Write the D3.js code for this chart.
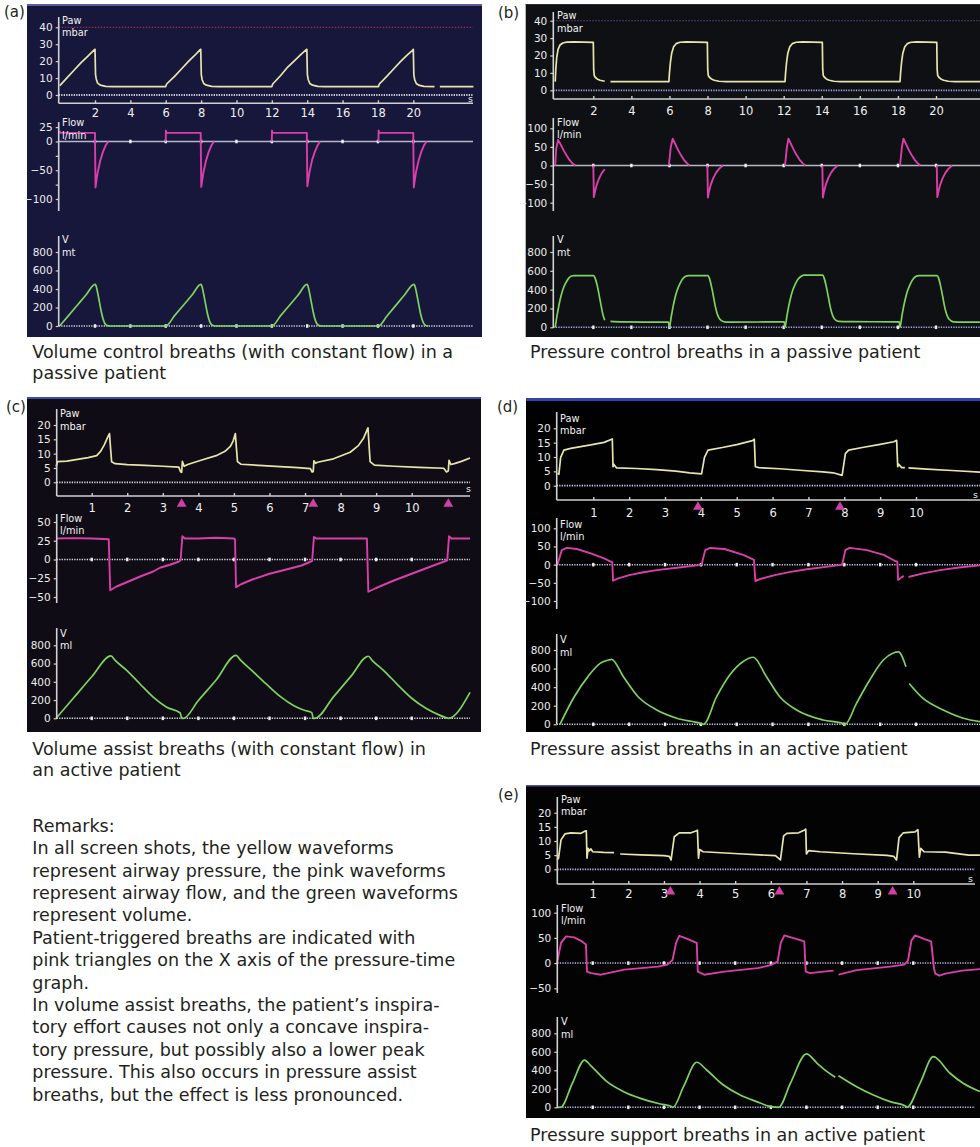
<!DOCTYPE html>
<html><head><meta charset="utf-8">
<script src="https://cdn.jsdelivr.net/npm/d3@7/dist/d3.min.js"></script>
<style>body{margin:0;background:#fff;} svg{display:block;}</style>
</head><body><svg id="c" width="980" height="1147"></svg>
<script>
// ================= DATA =================
const timeTicksAB = [2,4,6,8,10,12,14,16,18,20];
const timeTicksCDE = [1,2,3,4,5,6,7,8,9,10];
const pawTicksAB = [0,10,20,30,40];
const pawTicksCDE = [0,5,10,15,20];
const flowTicksA = [25,0,-50,-100];
const flowMinorA = [-25,-75];
const flowTicksBD = [100,50,0,-50,-100];
const flowTicksC = [50,25,0,-25,-50];
const flowTicksE = [100,50,0,-50];
const volTicks = [0,200,400,600,800];
const pawLimitAB = 40;

const panelLetters = ["(a)","(b)","(c)","(d)","(e)"];
const captionA = ["Volume control breaths (with constant flow) in a","passive patient"];
const captionB = ["Pressure control breaths in a passive patient"];
const captionC = ["Volume assist breaths (with constant flow) in","an active patient"];
const captionD = ["Pressure assist breaths in an active patient"];
const captionE = ["Pressure support breaths in an active patient"];
const remarks = [
 "Remarks:",
 "In all screen shots, the yellow waveforms",
 "represent airway pressure, the pink waveforms",
 "represent airway flow, and the green waveforms",
 "represent volume.",
 "Patient-triggered breaths are indicated with",
 "pink triangles on the X axis of the pressure-time",
 "graph.",
 "In volume assist breaths, the patient\u2019s inspira-",
 "tory effort causes not only a concave inspira-",
 "tory pressure, but possibly also a lower peak",
 "pressure. This also occurs in pressure assist",
 "breaths, but the effect is less pronounced."
];

// trigger markers (s)
const triggersC = [3.53,7.23,11.03];
const triggersD = [3.92,7.88];
const triggersE = [3.18,6.24,9.42];

// (a) volume control, passive
const aPaw = [[0,5.5],[0.05,6],[0.4,10],[0.8,14.5],[1.2,19],[1.6,23],[1.97,26.8],[2.0,27],[2.03,12],[2.07,9.5],[2.15,7],[2.3,5.8],[2.6,5.1],[3,5],[6,5],
 [6.05,6.5],[6.5,11],[6.9,15.5],[7.3,20],[7.65,23.5],[7.95,26.8],[7.98,27],[8.01,12],[8.06,9],[8.15,6.8],[8.3,5.8],[8.6,5.1],[9,5],[12,5],
 [12.05,6.5],[12.5,11.5],[12.9,16.5],[13.3,20.5],[13.65,24],[13.95,26.8],[13.98,27],[14.01,12],[14.06,9],[14.15,6.8],[14.3,5.8],[14.6,5.1],[15,5],[18.03,5],
 [18.08,6.5],[18.5,11],[18.9,15.5],[19.3,20],[19.65,23.5],[19.97,26.5],[20.0,27],[20.03,12],[20.08,9],[20.17,6.8],[20.3,5.8],[20.6,5.1],[21.2,5],null,[21.5,5],[23.4,5]];
const aFlow = [[0,18],[0.03,15],[2.0,15],[2.0,0],[2.03,-80],[2.08,-68],[2.15,-54],[2.3,-33],[2.45,-18],[2.6,-7],[2.75,0],null,
 [6.0,0],[6.01,19],[6.04,15],[7.98,15],[7.98,0],[8.01,-79],[8.06,-68],[8.13,-54],[8.28,-33],[8.43,-18],[8.58,-7],[8.73,0],null,
 [12.0,0],[12.01,19],[12.04,15],[13.98,15],[13.98,0],[14.01,-78],[14.06,-67],[14.13,-53],[14.28,-32],[14.43,-18],[14.58,-7],[14.73,0],null,
 [18.03,0],[18.04,19],[18.07,15],[20.0,15],[20.0,0],[20.03,-80],[20.08,-68],[20.15,-54],[20.3,-33],[20.45,-18],[20.6,-7],[20.75,0]];
const aVol = [[0,0],[0.5,112],[1.0,225],[1.5,338],[2.0,450],[2.05,440],[2.15,360],[2.25,260],[2.35,160],[2.45,80],[2.55,30],[2.7,5],[2.85,0],[6.0,0],
 [6.5,112],[7.0,225],[7.5,338],[7.98,450],[8.03,440],[8.13,360],[8.23,260],[8.33,160],[8.43,80],[8.53,30],[8.68,5],[8.83,0],[12.0,0],
 [12.5,112],[13.0,225],[13.5,338],[13.98,450],[14.03,440],[14.13,360],[14.23,260],[14.33,160],[14.43,80],[14.53,30],[14.68,5],[14.83,0],[18.03,0],
 [18.5,105],[19.0,220],[19.5,335],[20.03,450],[20.08,440],[20.18,360],[20.28,260],[20.38,160],[20.48,80],[20.58,30],[20.7,5],[20.85,0]];

// (b) pressure control, passive
const bPaw = [[0,5],[0.03,12],[0.08,19],[0.15,23.5],[0.25,26],[0.4,27.2],[0.6,27.7],[1.0,27.8],[2.0,27.6],[2.02,12],[2.05,8.5],[2.1,7.5],[2.2,6.5],[2.35,5.8],[2.6,5.2],null,
 [2.9,5],[5.97,5],[6.0,10],[6.05,16],[6.12,21.5],[6.22,25],[6.35,26.8],[6.55,27.6],[6.9,27.8],[7.99,27.6],[8.01,12],[8.04,8.5],[8.1,7.5],[8.2,6.5],[8.35,5.8],[8.6,5.2],[9.0,5],
 [12.07,5],[12.1,10],[12.15,16],[12.22,21.5],[12.32,25],[12.45,26.8],[12.65,27.6],[13.0,27.8],[14.03,27.6],[14.05,12],[14.08,8.5],[14.14,7.5],[14.24,6.5],[14.39,5.8],[14.64,5.2],[15.0,5],
 [18.11,5],[18.14,10],[18.19,16],[18.26,21.5],[18.36,25],[18.49,26.8],[18.69,27.6],[19.0,27.8],[20.04,27.6],[20.06,12],[20.09,8.5],[20.15,7.5],[20.25,6.5],[20.4,5.8],[20.65,5.2],[21.0,5],[22.4,5]];
const bFlow = [[0,0],[0.05,45],[0.15,69],[0.3,55],[0.45,40],[0.6,27],[0.75,15],[0.9,6],[1.05,0],null,
 [2.0,0],[2.03,-85],[2.08,-72],[2.18,-52],[2.3,-35],[2.45,-20],[2.6,-10],null,
 [5.97,0],[6.07,50],[6.17,72],[6.3,58],[6.45,42],[6.6,28],[6.75,16],[6.9,7],[7.05,0],null,
 [7.99,0],[8.02,-86],[8.07,-72],[8.17,-52],[8.3,-34],[8.45,-19],[8.6,-9],[8.8,0],null,
 [12.07,0],[12.17,50],[12.25,72],[12.38,58],[12.53,42],[12.68,28],[12.83,16],[12.98,7],[13.13,0],null,
 [14.03,0],[14.06,-86],[14.11,-72],[14.21,-52],[14.34,-34],[14.49,-19],[14.64,-9],[14.84,0],null,
 [18.11,0],[18.21,50],[18.29,72],[18.42,58],[18.57,42],[18.72,28],[18.87,16],[19.02,7],[19.17,0],null,
 [20.04,0],[20.07,-85],[20.12,-72],[20.22,-52],[20.35,-34],[20.5,-19],[20.65,-9],[20.85,0]];
const bVol = [[0,0],[0.1,130],[0.2,240],[0.3,330],[0.4,400],[0.55,470],[0.7,520],[0.85,545],[1.0,550],[2.02,550],[2.1,520],[2.2,450],[2.3,350],[2.4,240],[2.5,140],[2.6,75],null,
 [2.9,62],[3.5,57],[5.95,55],[5.99,0],[6.1,120],[6.2,230],[6.3,320],[6.4,390],[6.55,465],[6.7,515],[6.85,542],[7.0,550],[8.02,550],[8.1,520],[8.2,440],[8.3,340],[8.4,230],[8.5,150],[8.6,100],[8.75,68],[8.9,58],[9.2,55],
 [12.03,58],[12.07,0],[12.17,120],[12.27,230],[12.37,320],[12.47,390],[12.62,465],[12.77,515],[12.92,542],[13.07,555],[14.05,555],[14.13,520],[14.23,440],[14.33,340],[14.43,230],[14.53,150],[14.63,100],[14.78,70],[14.93,62],[15.3,60],
 [18.07,58],[18.11,0],[18.21,120],[18.31,230],[18.41,320],[18.51,390],[18.66,465],[18.81,515],[18.96,542],[19.11,550],[20.06,550],[20.14,520],[20.24,440],[20.34,340],[20.44,230],[20.54,150],[20.64,100],[20.79,70],[20.94,58],[21.3,55],[22.4,55]];

// (c) volume assist, active
const cPaw = [[0,5.5],[0.04,7.2],[0.3,7.4],[0.6,8.0],[0.9,8.6],[1.14,9.3],[1.25,10.8],[1.35,13],[1.45,15.8],[1.5,17],[1.53,12],[1.56,7.2],[1.66,6.5],[2.0,6.2],[2.5,5.9],[3.0,5.6],[3.45,5.3],[3.5,3.7],[3.53,3.5],[3.55,7.3],[3.6,5.6],[3.7,6.2],[4.05,7.6],[4.5,9.3],[4.75,10.8],[4.9,12.5],[4.98,14.5],[5.04,17],[5.07,12],[5.1,7.2],[5.2,6.3],[5.7,5.9],[6.3,5.5],[6.8,5.1],[7.15,4.8],[7.2,3.6],[7.23,3.7],[7.25,7.5],[7.3,6.6],[7.35,7.0],[7.8,8.2],[8.27,10.5],[8.5,12.8],[8.65,15.5],[8.77,19],[8.8,13],[8.83,7.2],[8.95,6.0],[9.5,5.6],[10.2,5.2],[10.9,4.9],[10.98,3.6],[11.03,4],[11.05,7.7],[11.1,6.2],[11.2,6.5],[11.4,7.3],[11.64,8.5]];
const cFlow = [[0,28],[0.5,28.5],[1.0,28],[1.48,27],[1.52,-41],[1.7,-36],[2.0,-30],[2.4,-22],[2.73,-16],[2.92,-11],[3.2,-7],[3.44,-3],[3.5,-1],[3.55,31],[3.62,28],[4.0,28],[4.5,29],[5.0,28],[5.03,27],[5.06,-37],[5.2,-33],[5.5,-27],[6.0,-19],[6.5,-13],[6.9,-8],[7.2,-2],[7.25,30],[7.32,28],[8.0,28],[8.74,28],[8.78,-43],[9.0,-38],[9.5,-28],[10.0,-19],[10.5,-10],[10.9,-3],[11.0,-1],[11.05,31],[11.12,28],[11.64,28]];
const cVol = [[0,0],[0.5,228],[1.0,455],[1.54,685],[1.66,635],[2.0,520],[2.36,376],[2.73,232],[3.11,122],[3.49,58],[3.53,0],[3.58,0],[4.0,195],[4.5,420],[5.06,690],[5.18,640],[5.5,525],[5.9,380],[6.3,240],[6.7,135],[7.0,85],[7.19,62],[7.23,0],[7.28,0],[7.8,235],[8.3,465],[8.78,680],[8.9,630],[9.25,510],[9.6,370],[10.0,220],[10.4,110],[10.75,40],[10.98,5],[11.03,0],[11.64,285]];

// (d) pressure assist, active
const dPaw = [[0,4.3],[0.04,4.0],[0.09,9.9],[0.18,12.4],[0.37,13.0],[0.93,14.2],[1.3,15.1],[1.53,16.3],[1.55,6.6],[1.57,7.5],[1.65,6.2],[2.2,6.0],[2.77,5.6],[3.3,5.1],[3.69,4.5],[4.02,4.1],[4.1,9.9],[4.2,12.4],[4.6,13.3],[5.0,14.3],[5.44,15.7],[5.49,16.2],[5.52,6.6],[5.62,6.3],[6.2,5.9],[6.85,5.3],[7.4,4.8],[7.69,4.5],[7.94,3.6],[8.03,11.2],[8.12,12.4],[8.54,13.4],[9.0,14.4],[9.38,15.3],[9.46,15.8],[9.49,6.6],[9.52,7.5],[9.6,6.3],[9.69,6.3],null,[9.79,6.2],[10.3,5.8],[11.0,5.3],[11.79,4.7]];
const dFlow = [[0,0],[0.12,40],[0.26,46],[0.54,43],[0.93,31],[1.3,17],[1.53,6],[1.55,-44],[1.7,-38],[2.0,-29],[2.4,-21],[2.77,-15],[3.33,-8.5],[3.9,-2],[4.02,0],[4.12,40],[4.26,46],[4.66,43],[5.2,26],[5.48,13],[5.52,-45],[5.7,-38],[6.06,-29],[6.5,-20],[7.0,-12],[7.5,-6],[7.94,0],[8.03,40],[8.15,46],[8.63,40],[9.1,27],[9.38,12],[9.48,8],[9.5,-42],[9.58,-36],[9.66,-31],null,[9.79,-34],[10.2,-24],[10.67,-15],[11.2,-8],[11.79,-2]];
const dVol = [[0.07,0],[0.47,297],[0.86,519],[1.19,656],[1.4,690],[1.51,700],[1.84,512],[2.25,297],[2.77,154],[3.33,65],[3.98,11],[4.07,0],[4.44,297],[4.81,533],[5.18,676],[5.46,722],[5.83,512],[6.2,297],[6.67,154],[7.41,46],[7.97,8],[8.02,0],[8.34,226],[8.71,477],[9.09,692],[9.35,765],[9.51,780],[9.72,620],null,[9.81,440],[10.2,278],[10.76,154],[11.32,65],[11.79,28]];

// (e) pressure support, active
const ePaw = [[0,3.3],[0.04,3.9],[0.11,10.4],[0.22,12.5],[0.39,12.9],[0.67,12.7],[0.79,13.5],[0.82,13.6],[0.84,3.9],[0.87,7.4],[0.9,6.5],[0.95,7.2],[1.0,6.2],[1.3,6.0],[1.6,5.9],null,[1.77,5.4],[2.35,5.1],[3.0,4.8],[3.15,4.6],[3.2,3.3],[3.29,11.5],[3.43,12.9],[3.76,12.9],[3.92,13.6],[3.94,13.8],[3.97,3.9],[4.0,7.0],[4.1,6.2],[5.1,5.5],[6.13,4.8],[6.27,3.3],[6.36,11.8],[6.45,12.7],[6.78,12.9],[6.95,13.9],[6.98,14.2],[7.0,5.4],[7.06,6.6],[7.38,6.2],[8.32,5.5],[9.26,4.9],[9.45,4.6],[9.53,3.3],[9.6,11.2],[9.72,12.9],[10.05,13.2],[10.13,14],[10.17,4.3],[10.21,7.4],[10.3,6.2],[10.9,6.1],[11.56,5.0],[11.87,5.0]];
const eFlow = [[0,0],[0.11,40],[0.25,53],[0.48,51],[0.7,43],[0.81,37],[0.84,-17],[0.95,-20],[1.23,-23],[1.89,-13],[2.83,-7],[3.1,-3],[3.24,6],[3.34,40],[3.43,54],[3.66,48],[3.92,40],[3.95,-17],[4.13,-23],[4.69,-17],[5.63,-10],[6.0,-4],[6.19,3],[6.28,40],[6.38,55],[6.66,49],[6.94,43],[6.98,-17],[7.1,-20],[7.48,-17],[7.76,-15],null,[7.9,-23],[8.41,-14],[9.35,-7],[9.75,-3],[9.85,5],[9.95,45],[10.05,55],[10.3,48],[10.5,43],[10.58,-10],[10.62,-21],[10.73,-25],[10.9,-21],[11.37,-15],[11.87,-12]];
const eVol = [[0,0],[0.1,0],[0.43,260],[0.77,511],[0.93,457],[1.4,277],[1.87,169],[2.34,97],[2.9,36],[3.18,14],[3.25,0],[3.55,223],[3.92,487],[4.2,403],[4.67,241],[5.14,133],[5.6,61],[5.98,10],[6.22,0],[6.55,260],[7.0,577],[7.3,476],[7.58,385],[7.81,324],null,[7.9,342],[8.41,223],[8.88,133],[9.35,61],[9.78,15],[9.82,0],[10.2,270],[10.56,547],[11.03,368],[11.4,260],[11.87,170]];

// ================= LAYOUT / STYLE =================
const FONT = "'DejaVu Sans','Open Sans',sans-serif";
const C_PAW = "#e8e5ac", C_FLOW = "#d83fa8", C_VOL = "#7fd160";
const layouts = {
 a:{box:[27,4,455,333],bg:"#17173b",border:"#5b5b9e",bw:2,letter:[4,17],
    x:{d:[2,20],r:[95,413.3],ext:[58.7,473]},xLab:117.5,sLab:[468,102],zero:"#cfd0dc",limit:"#9a2a52",
    paw:{d:[0,40],r:[95,27.3],ax:[17,103.3],lab:[62,23.5,36]},
    flow:{d:[-100,0],r:[199,141.5],ax:[122,211],lab:[62,126,138.5],solid:true},
    vol:{d:[0,800],r:[326,252],ax:[236,326],lab:[62,242.7,256]}},
 b:{box:[525.7,4,455,333],bg:"#0e1013",border:"#2a2c33",bw:1,letter:[498,18],
    x:{d:[2,20],r:[593.3,936],ext:[553.3,980]},xLab:115.5,sLab:null,zero:"#a3a3e6",limit:"#553c70",
    paw:{d:[0,40],r:[90.3,20.7],ax:[12,99],lab:[557,19.3,31.7]},
    flow:{d:[-100,100],r:[202.7,128.3],ax:[118,211],lab:[557,126,138.3],solid:true},
    vol:{d:[0,800],r:[327.3,252],ax:[236,328],lab:[557,243.3,256]}},
 c:{box:[27,397,454,335],bg:"#0f0c15",border:"#3d4ea2",bw:2,letter:[6,412],
    x:{d:[1,10],r:[91.7,411.7],ext:[56.7,470]},xLab:512.5,sLab:[466,492],zero:"#d8d8e0",
    paw:{d:[0,20],r:[482.3,425],ax:[409,496],lab:[60,417.3,430]},
    flow:{d:[-50,50],r:[597,522],ax:[514,603],lab:[60,521.7,534]},
    vol:{d:[0,800],r:[718.3,645.3],ax:[628,719],lab:[60,636.7,649.3]},trigY:504},
 d:{box:[526,398,454,334],bg:"#010101",border:"#3444aa",bw:3,letter:[497,412],
    x:{d:[1,10],r:[593.3,916],ext:[556.7,980]},xLab:517,sLab:[973,498],zero:"#c8c8ee",
    paw:{d:[0,20],r:[485.7,428.3],ax:[412,500],lab:[560,421.7,434.3]},
    flow:{d:[-100,100],r:[601,528.3],ax:[518,609],lab:[560,527.7,540]},
    vol:{d:[0,800],r:[724.3,650],ax:[634,724],lab:[560,642.7,656]},trigY:507},
 e:{box:[526,785,454,333],bg:"#030303",border:"#50509c",bw:1.5,letter:[498,800],
    x:{d:[1,10],r:[592.7,913.3],ext:[557.3,975]},xLab:898.5,sLab:[968,882],zero:"#b9b9e8",
    paw:{d:[0,20],r:[869.3,812.7],ax:[797,884],lab:[561,802.7,815]},
    flow:{d:[-50,100],r:[988.3,912.7],ax:[905,993],lab:[561,911.7,924]},
    vol:{d:[0,800],r:[1107.3,1033.3],ax:[1017,1108],lab:[561,1025,1038.3]},trigY:891.7}
};
const captionPos = {a:[32.3,358.3],b:[530,358.3],c:[32.3,755],d:[530,755],e:[530,1141]};
const TEXT_SIZE = 17.5, LABEL_SIZE = 9.8, YTICK_SIZE = 10.5, XTICK_SIZE = 11.5, LETTER_SIZE = 15;

const panels = [
 {id:"a",letter:panelLetters[0],paw:aPaw,flow:aFlow,vol:aVol,tt:timeTicksAB,pt:pawTicksAB,ft:flowTicksA,fm:flowMinorA,vu:"mt",trig:[],cap:captionA,limit:pawLimitAB},
 {id:"b",letter:panelLetters[1],paw:bPaw,flow:bFlow,vol:bVol,tt:timeTicksAB,pt:pawTicksAB,ft:flowTicksBD,fm:[],vu:"mt",trig:[],cap:captionB,limit:pawLimitAB},
 {id:"c",letter:panelLetters[2],paw:cPaw,flow:cFlow,vol:cVol,tt:timeTicksCDE,pt:pawTicksCDE,ft:flowTicksC,fm:[],vu:"ml",trig:triggersC,cap:captionC},
 {id:"d",letter:panelLetters[3],paw:dPaw,flow:dFlow,vol:dVol,tt:timeTicksCDE,pt:pawTicksCDE,ft:flowTicksBD,fm:[],vu:"ml",trig:triggersD,cap:captionD},
 {id:"e",letter:panelLetters[4],paw:ePaw,flow:eFlow,vol:eVol,tt:timeTicksCDE,pt:pawTicksCDE,ft:flowTicksE,fm:[],vu:"ml",trig:triggersE,cap:captionE}
];

// ================= DRAW =================
const svg = d3.select("#c");
const defs = svg.append("defs");

function yAxis(g, y, spec, ticks, minor, axX) {
  const ax = g.append("g").attr("transform", `translate(${axX},0)`)
    .call(d3.axisLeft(y).tickValues(ticks).tickSize(3).tickPadding(3).tickFormat(d => d < 0 ? "\u2212" + Math.abs(d) : d));
  ax.select(".domain").remove();
  ax.selectAll("line").attr("stroke", "#cfcfcf").attr("stroke-width", 1.2);
  ax.selectAll("text").attr("fill", "#ececec").attr("font-family", FONT).attr("font-size", YTICK_SIZE);
  if (minor.length) {
    const mx = g.append("g").attr("transform", `translate(${axX},0)`)
      .call(d3.axisLeft(y).tickValues(minor).tickSize(3).tickFormat(""));
    mx.select(".domain").remove();
    mx.selectAll("line").attr("stroke", "#cfcfcf").attr("stroke-width", 1.2);
  }
  g.append("line").attr("x1", axX).attr("x2", axX).attr("y1", spec.ax[0]).attr("y2", spec.ax[1])
    .attr("stroke", "#d2d2d2").attr("stroke-width", 1.6);
}

function subLabels(g, spec, l1, l2) {
  [[l1, spec.lab[1]], [l2, spec.lab[2]]].forEach(([t, yy]) => {
    g.append("text").attr("x", spec.lab[0]).attr("y", yy).text(t)
      .attr("fill", "#f2f2f2").attr("font-family", FONT).attr("font-size", LABEL_SIZE);
  });
}

function zeroMarks(g, x, yy, ticks) {
  g.selectAll(null).data(ticks).enter().append("rect")
    .attr("x", d => x(d) - 1.2).attr("y", yy - 1.8).attr("width", 2.4).attr("height", 3.6)
    .attr("fill", "#ffffff").attr("opacity", 0.9);
}

panels.forEach(p => {
  const L = layouts[p.id];
  const g = svg.append("g");
  const clipId = "clip-" + p.id;
  defs.append("clipPath").attr("id", clipId).append("rect")
    .attr("x", L.box[0]).attr("y", L.box[1]).attr("width", L.box[2]).attr("height", L.box[3]);

  g.append("rect").attr("x", L.box[0]).attr("y", L.box[1]).attr("width", L.box[2]).attr("height", L.box[3]).attr("fill", L.bg);
  g.append("rect").attr("x", L.box[0]).attr("y", L.box[1]).attr("width", L.box[2]).attr("height", L.bw).attr("fill", L.border);

  svg.append("text").attr("x", L.letter[0]).attr("y", L.letter[1]).text(p.letter)
    .attr("font-family", FONT).attr("font-size", LETTER_SIZE).attr("fill", "#231f20");

  const x = d3.scaleLinear().domain(L.x.d).range(L.x.r);
  const [x0, x1] = L.x.ext;
  const axX = x0;
  const inner = g.append("g").attr("clip-path", `url(#${clipId})`);

  // ---------- pressure ----------
  const yP = d3.scaleLinear().domain(L.paw.d).range(L.paw.r);
  if (p.limit !== undefined) {
    inner.append("line").attr("x1", x0).attr("x2", x1).attr("y1", yP(p.limit)).attr("y2", yP(p.limit))
      .attr("stroke", L.limit).attr("stroke-width", 1.3).attr("stroke-dasharray", "1.5,1.5");
  }
  inner.append("line").attr("x1", x0).attr("x2", x1).attr("y1", yP(0)).attr("y2", yP(0))
    .attr("stroke", L.zero).attr("stroke-width", 1.8).attr("stroke-dasharray", "1.3,1.2");
  const xAxY = L.paw.ax[1];
  const xa = inner.append("g").attr("transform", `translate(0,${xAxY})`)
    .call(d3.axisBottom(x).tickValues(p.tt).tickSizeInner(-3).tickSizeOuter(0).tickPadding(L.xLab - xAxY - 0.73 * XTICK_SIZE));
  xa.select(".domain").remove();
  xa.selectAll("line").attr("stroke", "#d0d0d0").attr("stroke-width", 1.4);
  xa.selectAll("text").attr("fill", "#efefef").attr("font-family", FONT).attr("font-size", XTICK_SIZE);
  inner.append("line").attr("x1", x0).attr("x2", x1).attr("y1", xAxY).attr("y2", xAxY)
    .attr("stroke", "#d0d0d0").attr("stroke-width", 1.5);
  if (L.sLab) inner.append("text").attr("x", L.sLab[0]).attr("y", L.sLab[1]).text("s")
    .attr("fill", "#efefef").attr("font-family", FONT).attr("font-size", 9.5);
  yAxis(g, yP, L.paw, p.pt, [], axX);
  subLabels(g, L.paw, "Paw", "mbar");

  // ---------- flow ----------
  const yF = d3.scaleLinear().domain(L.flow.d).range(L.flow.r);
  inner.append("line").attr("x1", x0).attr("x2", x1).attr("y1", yF(0)).attr("y2", yF(0))
    .attr("stroke", L.flow.solid ? "#b7b7c8" : L.zero).attr("stroke-width", L.flow.solid ? 1.4 : 1.5)
    .attr("stroke-dasharray", L.flow.solid ? null : "1.3,1.2");
  zeroMarks(inner, x, yF(0), p.tt);
  yAxis(g, yF, L.flow, p.ft, p.fm, axX);
  subLabels(g, L.flow, "Flow", "l/min");

  // ---------- volume ----------
  const yV = d3.scaleLinear().domain(L.vol.d).range(L.vol.r);
  inner.append("line").attr("x1", x0).attr("x2", x1).attr("y1", yV(0)).attr("y2", yV(0))
    .attr("stroke", L.zero).attr("stroke-width", 1.5).attr("stroke-dasharray", "1.3,1.2");
  zeroMarks(inner, x, yV(0), p.tt);
  yAxis(g, yV, L.vol, volTicks, [], axX);
  subLabels(g, L.vol, "V", p.vu);

  // ---------- traces ----------
  const mk = (ys, curve) => d3.line().defined(d => d !== null).x(d => x(d[0])).y(d => ys(d[1])).curve(curve);
  inner.append("path").attr("d", mk(yP, d3.curveLinear)(p.paw)).attr("fill", "none").attr("stroke", C_PAW)
    .attr("stroke-width", 1.7).attr("stroke-linejoin", "round");
  inner.append("path").attr("d", mk(yF, d3.curveLinear)(p.flow)).attr("fill", "none").attr("stroke", C_FLOW)
    .attr("stroke-width", 1.9).attr("stroke-linejoin", "round");
  inner.append("path").attr("d", mk(yV, d3.curveMonotoneX)(p.vol)).attr("fill", "none").attr("stroke", C_VOL)
    .attr("stroke-width", 1.7).attr("stroke-linejoin", "round");

  // ---------- trigger triangles ----------
  inner.selectAll(null).data(p.trig).enter().append("path")
    .attr("d", d3.symbol(d3.symbolTriangle).size(42))
    .attr("transform", d => `translate(${x(d)},${L.trigY})`)
    .attr("fill", "#d23fa6");

  // ---------- caption ----------
  const cp = captionPos[p.id];
  p.cap.forEach((t, i) => {
    svg.append("text").attr("x", cp[0]).attr("y", cp[1] + i * 21).text(t)
      .attr("font-family", FONT).attr("font-size", TEXT_SIZE).attr("fill", "#231f20");
  });
});

// remarks
remarks.forEach((t, i) => {
  svg.append("text").attr("x", 32.3).attr("y", 831.7 + i * 22.4).text(t)
    .attr("font-family", FONT).attr("font-size", TEXT_SIZE).attr("fill", "#231f20");
});
</script></body></html>
